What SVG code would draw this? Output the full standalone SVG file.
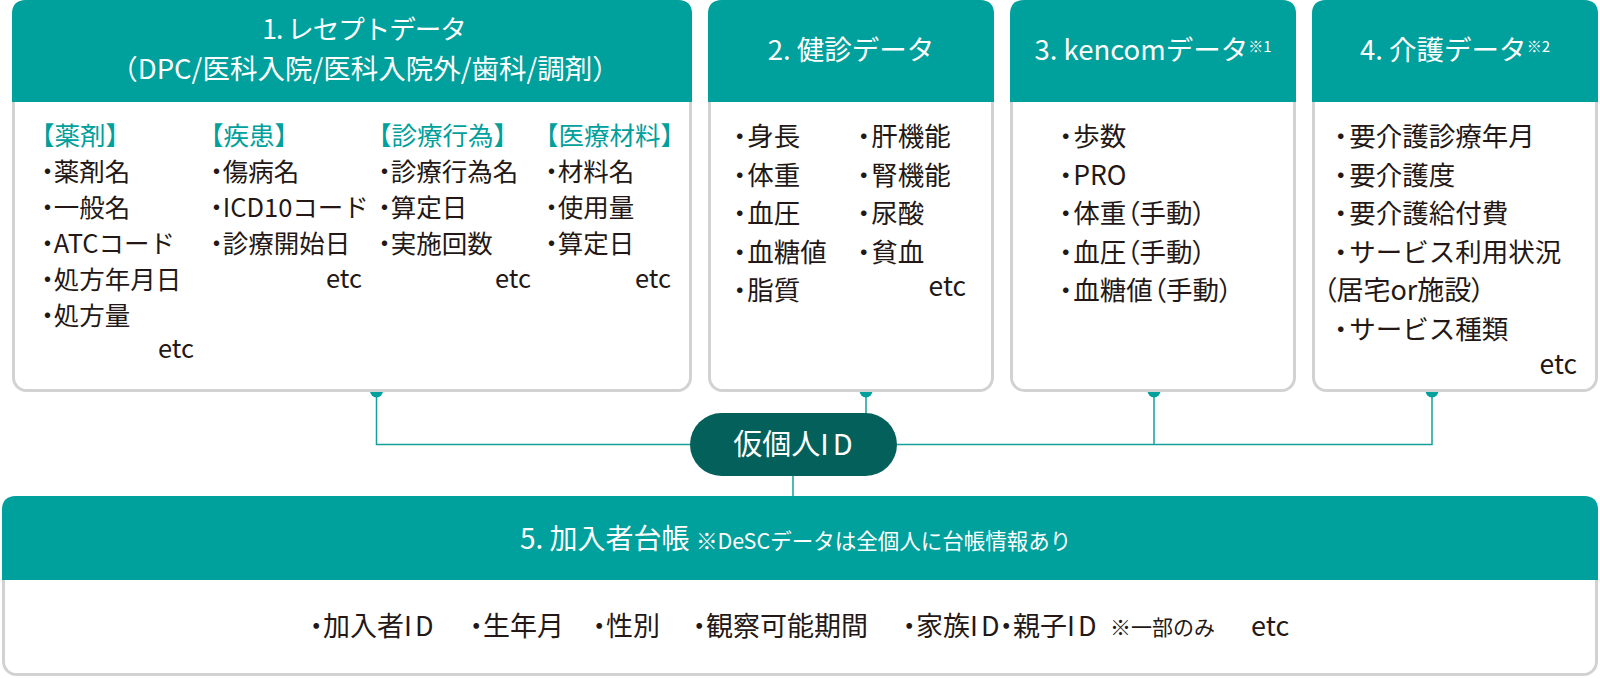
<svg xmlns="http://www.w3.org/2000/svg" width="1600" height="679" viewBox="0 0 1600 679">
<style>
text{font-family:"Noto Sans CJK JP","Noto Sans",sans-serif}
.p{font-feature-settings:"palt"}
.box{fill:#fff;stroke:#d2d2d2;stroke-width:3}
.head{fill:#00a09c}
.hd{fill:#fff;font-size:27.5px;text-anchor:middle}
.hs{fill:#fff;font-size:28px}
.sup{font-size:15px}
.bd{fill:#231815;font-size:26.5px}
.b1{font-size:25.5px}
.b5{font-size:27px}
.cat{fill:#00a09c}
.end{text-anchor:end}
.sm{font-size:21px}
.line{fill:none;stroke:#14a19d;stroke-width:1.5}
.dot{fill:#00a09c}
</style>
<g id="connectors">
<path class="line" d="M376.5,391 V444.5 H1432 V391"/>
<path class="line" d="M866,391 V414"/>
<path class="line" d="M1154,391 V444.5"/>
<path class="line" d="M793,476 V497"/>
<circle class="dot" cx="376.5" cy="391" r="6.5"/>
<circle class="dot" cx="866" cy="391" r="6.5"/>
<circle class="dot" cx="1154" cy="391" r="6.5"/>
<circle class="dot" cx="1432" cy="391" r="6.5"/>
</g>
<g id="node-receipt">
<rect class="box" x="13.5" y="1.5" width="677" height="389" rx="13"/>
<path class="head" d="M12,102 V14 Q12,0 26,0 H678 Q692,0 692,14 V102 Z"/>
<text class="hd" x="364" y="39" letter-spacing="-1" style="font-size:26.5px">1. レセプトデータ</text>
<text class="hd" x="365" y="79" style="font-size:27.5px">（DPC/医科入院/医科入院外/歯科/調剤）</text>
<text class="bd b1 cat" x="29" y="144.5">【薬剤】</text>
<text class="bd b1" x="41" y="180.5"><tspan class="p">・</tspan>薬剤名</text>
<text class="bd b1" x="41" y="216.5"><tspan class="p">・</tspan>一般名</text>
<text class="bd b1" x="41" y="252.5"><tspan class="p">・</tspan>ATCコード</text>
<text class="bd b1" x="41" y="288.5"><tspan class="p">・</tspan>処方年月日</text>
<text class="bd b1" x="41" y="324.5"><tspan class="p">・</tspan>処方量</text>
<text class="bd b1 end" x="194" y="358">etc</text>
<text class="bd b1 cat" x="198" y="144.5">【疾患】</text>
<text class="bd b1" x="210" y="180.5"><tspan class="p">・</tspan>傷病名</text>
<text class="bd b1" x="210" y="216.5"><tspan class="p">・</tspan>ICD10コード</text>
<text class="bd b1" x="210" y="252.5"><tspan class="p">・</tspan>診療開始日</text>
<text class="bd b1 end" x="362" y="287.5">etc</text>
<text class="bd b1 cat" x="366" y="144.5">【診療行為】</text>
<text class="bd b1" x="378" y="180.5"><tspan class="p">・</tspan>診療行為名</text>
<text class="bd b1" x="378" y="216.5"><tspan class="p">・</tspan>算定日</text>
<text class="bd b1" x="378" y="252.5"><tspan class="p">・</tspan>実施回数</text>
<text class="bd b1 end" x="531" y="287.5">etc</text>
<text class="bd b1 cat" x="533" y="144.5">【医療材料】</text>
<text class="bd b1" x="545" y="180.5"><tspan class="p">・</tspan>材料名</text>
<text class="bd b1" x="545" y="216.5"><tspan class="p">・</tspan>使用量</text>
<text class="bd b1" x="545" y="252.5"><tspan class="p">・</tspan>算定日</text>
<text class="bd b1 end" x="671" y="287.5">etc</text>
</g>
<g id="node-checkup">
<rect class="box" x="709.5" y="1.5" width="283" height="389" rx="13"/>
<path class="head" d="M708,102 V14 Q708,0 722,0 H980 Q994,0 994,14 V102 Z"/>
<text class="hd" x="851" y="59.5">2. 健診データ</text>
<text class="bd" x="733" y="146"><tspan class="p">・</tspan><tspan dx="1">身長</tspan></text>
<text class="bd" x="733" y="184.5"><tspan class="p">・</tspan><tspan dx="1">体重</tspan></text>
<text class="bd" x="733" y="223"><tspan class="p">・</tspan><tspan dx="1">血圧</tspan></text>
<text class="bd" x="733" y="261.5"><tspan class="p">・</tspan><tspan dx="1">血糖値</tspan></text>
<text class="bd" x="733" y="300"><tspan class="p">・</tspan><tspan dx="1">脂質</tspan></text>
<text class="bd" x="857" y="146"><tspan class="p">・</tspan><tspan dx="1">肝機能</tspan></text>
<text class="bd" x="857" y="184.5"><tspan class="p">・</tspan><tspan dx="1">腎機能</tspan></text>
<text class="bd" x="857" y="223"><tspan class="p">・</tspan><tspan dx="1">尿酸</tspan></text>
<text class="bd" x="857" y="261.5"><tspan class="p">・</tspan><tspan dx="1">貧血</tspan></text>
<text class="bd end" x="966" y="296">etc</text>
</g>
<g id="node-kencom">
<rect class="box" x="1011.5" y="1.5" width="283" height="389" rx="13"/>
<path class="head" d="M1010,102 V14 Q1010,0 1024,0 H1282 Q1296,0 1296,14 V102 Z"/>
<text class="hd" x="1153" y="59.5">3. kencomデータ<tspan class="sup" dy="-8">※1</tspan></text>
<text class="bd p" x="1059" y="146">・<tspan dx="1">歩数</tspan></text>
<text class="bd p" x="1059" y="184.5">・<tspan dx="1">PRO</tspan></text>
<text class="bd p" x="1059" y="223">・<tspan dx="1">体重（手動）</tspan></text>
<text class="bd p" x="1059" y="261.5">・<tspan dx="1">血圧（手動）</tspan></text>
<text class="bd p" x="1059" y="300">・<tspan dx="1">血糖値（手動）</tspan></text>
</g>
<g id="node-care">
<rect class="box" x="1313.5" y="1.5" width="283" height="389" rx="13"/>
<path class="head" d="M1312,102 V14 Q1312,0 1326,0 H1584 Q1598,0 1598,14 V102 Z"/>
<text class="hd" x="1455" y="59.5">4. 介護データ<tspan class="sup" dy="-8">※2</tspan></text>
<text class="bd" x="1334" y="146"><tspan class="p">・</tspan><tspan dx="2">要介護診療年月</tspan></text>
<text class="bd" x="1334" y="184.5"><tspan class="p">・</tspan><tspan dx="2">要介護度</tspan></text>
<text class="bd" x="1334" y="223"><tspan class="p">・</tspan><tspan dx="2">要介護給付費</tspan></text>
<text class="bd" x="1334" y="261.5"><tspan class="p">・</tspan><tspan dx="2">サービス利用状況</tspan></text>
<text class="bd p" x="1323" y="300" style="font-size:27px">（居宅or施設）</text>
<text class="bd" x="1334" y="338.5"><tspan class="p">・</tspan><tspan dx="2">サービス種類</tspan></text>
<text class="bd end" x="1577" y="374">etc</text>
</g>
<g id="node-id">
<rect x="690" y="413" width="207" height="63" rx="31.5" fill="#03605a"/>
<text x="793" y="455" fill="#fff" font-size="29" text-anchor="middle">仮個人<tspan letter-spacing="4">I</tspan>D</text>
</g>
<g id="node-member">
<rect class="box" x="3.5" y="497.5" width="1593" height="177" rx="13"/>
<path class="head" d="M2,580 V510 Q2,496 16,496 H1584 Q1598,496 1598,510 V580 Z"/>
<text class="hs" x="520" y="548.5">5. 加入者台帳 <tspan font-size="21.5">※DeSCデータは全個人に台帳情報あり</tspan></text>
<text class="bd b5" x="309.5" y="636"><tspan class="p">・</tspan>加入者<tspan letter-spacing="3">I</tspan>D</text>
<text class="bd b5" x="469.5" y="636"><tspan class="p">・</tspan>生年月</text>
<text class="bd b5" x="592.5" y="636"><tspan class="p">・</tspan>性別</text>
<text class="bd b5" x="692.5" y="636"><tspan class="p">・</tspan>観察可能期間</text>
<text class="bd b5" x="902.5" y="636"><tspan class="p">・</tspan>家族<tspan letter-spacing="3">I</tspan>D<tspan class="p">・</tspan>親子<tspan letter-spacing="3">I</tspan>D</text>
<text class="bd sm" x="1110" y="635">※一部のみ</text>
<text class="bd b5" x="1251" y="636">etc</text>
</g>
</svg>
